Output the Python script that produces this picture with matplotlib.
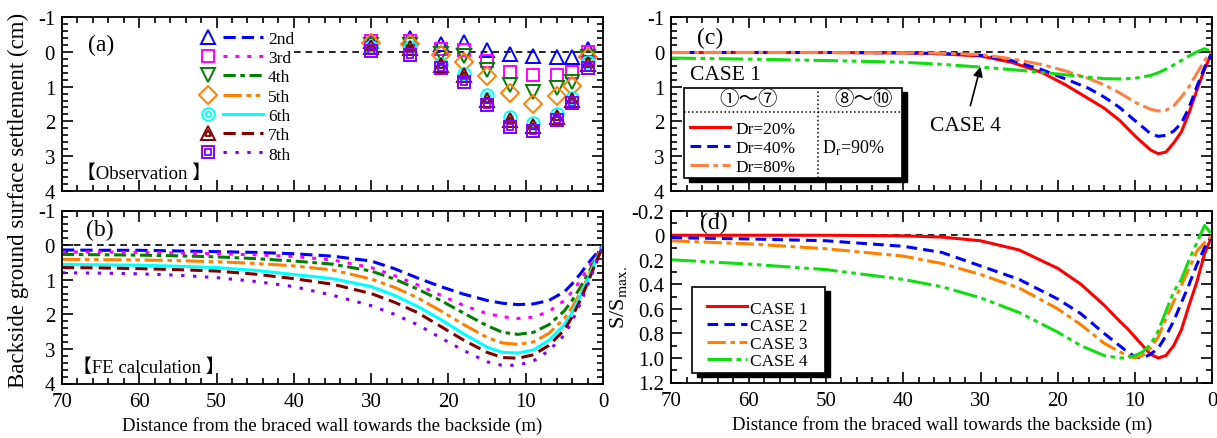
import matplotlib.pyplot as plt
from matplotlib.legend_handler import HandlerTuple
from matplotlib.lines import Line2D
from matplotlib.patches import Rectangle
from matplotlib.ticker import MultipleLocator, FuncFormatter

plt.rcParams['font.family'] = ['Liberation Serif', 'Noto Sans CJK JP']
plt.rcParams['mathtext.fontset'] = 'stix'

# ---------------- data ----------------
# (a) observed settlement (cm) at each excavation stage
obs_x = [30, 25, 21, 18, 15, 12, 9, 6, 4, 2]
obs_2nd = [-0.30, -0.40, -0.21, -0.28, -0.06, 0.06, 0.13, 0.15, 0.15, -0.09]
obs_3rd = [-0.30, -0.30, -0.09, -0.06, 0.27, 0.58, 0.68, 0.68, 0.58, 0.01]
obs_4th = [-0.20, -0.20, 0.05, 0.13, 0.52, 0.95, 1.16, 1.04, 0.87, 0.15]
obs_5th = [-0.25, -0.23, 0.10, 0.28, 0.70, 1.19, 1.49, 1.28, 0.97, 0.15]
obs_6th = [-0.15, -0.13, 0.34, 0.63, 1.24, 1.86, 2.05, 1.80, 1.32, 0.30]
obs_7th = [-0.15, -0.10, 0.39, 0.67, 1.38, 1.97, 2.12, 1.88, 1.38, 0.35]
obs_8th = [-0.02, 0.08, 0.47, 0.87, 1.54, 2.16, 2.28, 1.97, 1.47, 0.46]

# (b) FE calculation (cm)
fe_x = [70, 65, 60, 55, 50, 45, 40, 35, 30, 27, 24, 21, 18, 15, 13, 11, 9, 7, 5, 4, 3, 2, 1, 0]
fe_2nd = [0.14, 0.15, 0.15, 0.17, 0.19, 0.21, 0.25, 0.32, 0.46, 0.68, 0.95, 1.20, 1.42, 1.60, 1.68, 1.72,
          1.70, 1.60, 1.35, 1.12, 0.85, 0.55, 0.28, 0.02]
fe_3rd = [0.20, 0.20, 0.21, 0.23, 0.25, 0.28, 0.33, 0.43, 0.65, 0.88, 1.15, 1.45, 1.75, 1.98, 2.07, 2.12,
          2.08, 1.92, 1.60, 1.35, 1.05, 0.70, 0.35, 0.02]
fe_4th = [0.27, 0.28, 0.29, 0.31, 0.34, 0.39, 0.46, 0.55, 0.75, 0.98, 1.27, 1.60, 1.97, 2.33, 2.52, 2.58,
          2.52, 2.30, 1.90, 1.60, 1.25, 0.85, 0.42, 0.02]
fe_5th = [0.41, 0.42, 0.43, 0.45, 0.48, 0.53, 0.60, 0.72, 0.98, 1.22, 1.52, 1.90, 2.30, 2.67, 2.83, 2.87,
          2.80, 2.55, 2.12, 1.80, 1.40, 0.95, 0.48, 0.02]
fe_6th = [0.56, 0.57, 0.58, 0.61, 0.65, 0.73, 0.85, 0.97, 1.20, 1.45, 1.77, 2.15, 2.57, 2.95, 3.10, 3.12,
          3.03, 2.75, 2.30, 1.95, 1.50, 1.02, 0.50, 0.02]
fe_7th = [0.65, 0.66, 0.68, 0.71, 0.75, 0.84, 0.97, 1.13, 1.40, 1.65, 1.95, 2.35, 2.75, 3.10, 3.25, 3.27,
          3.17, 2.90, 2.45, 2.08, 1.62, 1.10, 0.55, 0.02]
fe_8th = [0.80, 0.81, 0.83, 0.87, 0.94, 1.05, 1.20, 1.45, 1.75, 2.00, 2.30, 2.68, 3.05, 3.37, 3.48, 3.47,
          3.35, 3.05, 2.60, 2.20, 1.72, 1.17, 0.60, 0.02]

# (c) settlement (cm) for the four cases
c_x = [70, 60, 50, 40, 35, 30, 26, 22, 19, 16, 14, 12, 10, 8, 7, 6, 5, 4, 3, 2, 1, 0]
c_case1 = [0.02, 0.02, 0.02, 0.03, 0.06, 0.12, 0.30, 0.60, 0.95, 1.35, 1.62, 1.97, 2.42, 2.82, 2.93, 2.88,
           2.62, 2.30, 1.75, 1.10, 0.50, 0.0]
c_case2 = [0.02, 0.02, 0.02, 0.03, 0.05, 0.10, 0.25, 0.52, 0.78, 1.05, 1.30, 1.60, 1.98, 2.35, 2.43, 2.40,
           2.28, 2.05, 1.60, 1.00, 0.45, 0.0]
c_case3 = [0.02, 0.02, 0.02, 0.03, 0.04, 0.08, 0.20, 0.37, 0.55, 0.77, 0.95, 1.18, 1.45, 1.65, 1.70, 1.68,
           1.55, 1.30, 1.00, 0.62, 0.25, 0.0]
c_case4 = [0.18, 0.21, 0.25, 0.30, 0.36, 0.44, 0.51, 0.59, 0.66, 0.73, 0.77, 0.78, 0.76, 0.68, 0.60, 0.50,
           0.38, 0.25, 0.12, 0.0, -0.09, 0.0]

# (d) normalised settlement S/Smax
d_x = [70, 60, 50, 40, 35, 30, 25, 20, 17, 14, 12, 11, 10, 9, 8, 7, 6, 5, 4, 3, 2, 1, 0]
d_case1 = [0.0, 0.0, 0.0, 0.005, 0.015, 0.045, 0.12, 0.27, 0.40, 0.57, 0.70, 0.76, 0.83, 0.90, 0.97, 1.0,
           0.98, 0.90, 0.77, 0.57, 0.38, 0.15, 0.0]
d_case2 = [0.02, 0.03, 0.045, 0.09, 0.14, 0.25, 0.36, 0.52, 0.64, 0.80, 0.90, 0.95, 0.99, 1.0, 0.97, 0.92,
           0.82, 0.70, 0.55, 0.40, 0.24, 0.10, 0.0]
d_case3 = [0.045, 0.07, 0.11, 0.17, 0.23, 0.32, 0.43, 0.60, 0.73, 0.88, 0.95, 0.98, 1.0, 0.98, 0.92, 0.83,
           0.68, 0.54, 0.41, 0.27, 0.13, 0.06, 0.0]
d_case4 = [0.20, 0.235, 0.28, 0.36, 0.42, 0.51, 0.63, 0.79, 0.90, 0.98, 1.0, 1.0, 0.98, 0.95, 0.89, 0.78,
           0.62, 0.46, 0.36, 0.20, 0.06, -0.08, 0.0]

stage_labels = ['2nd', '3rd', '4th', '5th', '6th', '7th', '8th']
case_labels = ['CASE 1', 'CASE 2', 'CASE 3', 'CASE 4']
dr_labels = ['Dr=20%', 'Dr=40%', 'Dr=80%']

# ---------------- styles ----------------
stage_colors = ['#0000ff', '#ff00ff', '#008000', '#ff8000', '#00ffff', '#800000', '#8000ff']
stage_dashes = [(4, 2), (1.3, 2.6), (4, 1.5, 1.5, 1.5), (6, 1.5, 1.5, 1.5, 1.5, 1.5), None, (4, 2), (1.1, 2.8)]
case_colors = ['#ff0000', '#0000ff', '#ff8000', '#11dd11']
case_dashes = [None, (3.5, 2), (6, 1.5, 1.5, 1.5), (8, 1.5, 1.5, 1.5, 1.5, 1.5)]
LW = 2.2

W, H = 1217, 439
fig = plt.figure(figsize=(W / 100, H / 100), dpi=100)


def add_ax(left, top, right, bottom):
    return fig.add_axes([left / W, 1 - bottom / H, (right - left) / W, (bottom - top) / H])


ax_a = add_ax(62, 18, 603, 192)
ax_b = add_ax(62, 211.5, 603, 384.5)
ax_c = add_ax(671.5, 18, 1212.3, 192)
ax_d = add_ax(671.5, 211.7, 1212.3, 383.5)


def style(ax, ylim, ymaj, ymin, xticklabels):
    ax.set_xlim(70, 0)
    ax.set_ylim(*ylim)
    ax.xaxis.set_major_locator(MultipleLocator(10))
    ax.xaxis.set_minor_locator(MultipleLocator(2))
    ax.yaxis.set_major_locator(MultipleLocator(ymaj))
    ax.yaxis.set_minor_locator(MultipleLocator(ymin))
    ax.tick_params(which='both', direction='in', top=True, right=True, width=1.2, labelsize=15)
    ax.tick_params(which='major', length=8)
    ax.tick_params(which='minor', length=4)
    ax.tick_params(axis='y', pad=5)
    ax.tick_params(axis='x', pad=6, labelbottom=xticklabels)
    for s in ax.spines.values():
        s.set_linewidth(1.3)


for ax in (ax_a, ax_b, ax_c):
    style(ax, (4, -1), 1, 0.2, ax is ax_b)
    ax.yaxis.set_major_formatter(FuncFormatter(lambda v, p: f'{v:.0f}'))
style(ax_d, (1.2, -0.2), 0.2, 0.1, True)
ax_d.yaxis.set_major_formatter(FuncFormatter(lambda v, p: '0' if abs(v) < 1e-9 else f'{v:.1f}'))

# ---------------- (a) observation ----------------
ax_a.axhline(0, xmin=30 / 70, xmax=1, color='k', lw=1.2, dashes=(4, 3))
obs = [obs_2nd, obs_3rd, obs_4th, obs_5th, obs_6th, obs_7th, obs_8th]
outer = [('^', 10), ('s', 9), ('v', 10), ('D', 9), ('o', 9), ('^', 10), ('s', 9)]
inner = [None, None, None, None, ('o', 4), ('^', 5), ('s', 4)]
handles = []
for vals, c, (m, ms), inn, d in zip(obs, stage_colors, outer, inner, stage_dashes):
    ax_a.plot(obs_x, vals, ls='none', marker=m, ms=ms, mfc='none', mec=c, mew=1.4)
    h_m = [Line2D([], [], ls='none', marker=m, ms=ms, mfc='none', mec=c, mew=1.4)]
    if inn:
        ax_a.plot(obs_x, vals, ls='none', marker=inn[0], ms=inn[1], mfc='none', mec=c, mew=1.3)
        h_m.append(Line2D([], [], ls='none', marker=inn[0], ms=inn[1], mfc='none', mec=c, mew=1.3))
    ln = Line2D([], [], color=c, lw=LW)
    if d:
        ln.set_dashes(d)
    # marker(s) in the first slot, line in the second
    handles.append(tuple([h_m[0], ln] + h_m[1:]))
ax_a.legend(handles, stage_labels, handler_map={tuple: HandlerTuple(ndivide=2, pad=-0.29)},
            loc='upper left', bbox_to_anchor=((188 - 62) / 541, 0.921), frameon=False,
            borderpad=0, borderaxespad=0, handlelength=4.32, handletextpad=0.29,
            labelspacing=0.18, fontsize=12.5)
ax_a.text(0.072, 0.845, '(a)', transform=ax_a.transAxes, ha='center', va='center', fontsize=17)
ax_a.text(0.0277, 0.1017, '【Observation 】', transform=ax_a.transAxes, ha='left', va='center', fontsize=13.5)

# ---------------- (b) FE calculation ----------------
ax_b.axhline(0, color='k', lw=1.2, dashes=(4, 3))
fe = [fe_2nd, fe_3rd, fe_4th, fe_5th, fe_6th, fe_7th, fe_8th]
for vals, c, d in zip(fe, stage_colors, stage_dashes):
    ln, = ax_b.plot(fe_x, vals, color=c, lw=LW)
    if d:
        ln.set_dashes(d)
ax_b.text(0.070, 0.893, '(b)', transform=ax_b.transAxes, ha='center', va='center', fontsize=17)
ax_b.text(0.0203, 0.0954, '【FE calculation 】', transform=ax_b.transAxes, ha='left', va='center',
          fontsize=13.5)
ax_b.set_xlabel('Distance from the braced wall towards the backside (m)', fontsize=13.5, labelpad=4)

# ---------------- (c) cases ----------------
ax_c.axhline(0, color='k', lw=1.2, dashes=(4, 3))
c_colors = ['#ff0000', '#0000ff', '#ff8040', '#11dd11']
c_lines = []
for vals, c, d in zip([c_case1, c_case2, c_case3, c_case4], c_colors, case_dashes):
    ln, = ax_c.plot(c_x, vals, color=c, lw=LW)
    if d:
        ln.set_dashes(d)
    c_lines.append(ln)
ax_c.text(0.072, 0.885, '(c)', transform=ax_c.transAxes, ha='center', va='center', fontsize=17)
ax_c.text(0.034, 0.672, 'CASE 1', transform=ax_c.transAxes, ha='left', va='center', fontsize=15.5)
ax_c.annotate('CASE 4', xy=(30, 0.43), xytext=(32, 2.13), ha='center', va='center', fontsize=15.5,
              arrowprops=dict(arrowstyle='-|>', color='k', lw=1.2, mutation_scale=14, shrinkA=6, shrinkB=0))

# table-like legend box
bx, by, bw, bh = 0.0231, 0.0747, 0.403, 0.5173
ax_c.add_patch(Rectangle((bx + 0.0092, by - 0.023), bw, bh, transform=ax_c.transAxes,
                         fc='k', ec='k', zorder=5))
ax_c.add_patch(Rectangle((bx, by), bw, bh, transform=ax_c.transAxes, fc='white', ec='k', lw=1.2, zorder=5.1))
ax_c.add_line(Line2D([0.2709, 0.2709], [by, by + bh], transform=ax_c.transAxes, color='k', lw=1.1,
                     ls=':', zorder=5.2))
ax_c.add_line(Line2D([bx, 0.4372], [0.454, 0.454], transform=ax_c.transAxes, color='k', lw=1.1,
                     ls=':', zorder=5.2, clip_on=False))
ax_c.text(0.1424, 0.5287, '①〜⑦', transform=ax_c.transAxes, ha='center', va='center', fontsize=14,
          zorder=5.3)
ax_c.text(0.3559, 0.5287, '⑧〜⑩', transform=ax_c.transAxes, ha='center', va='center', fontsize=14,
          zorder=5.3)
ax_c.text(0.2787, 0.253, r'D$_\mathrm{r}$=90%', transform=ax_c.transAxes, ha='left', va='center',
          fontsize=13, zorder=5.3)
leg_c = ax_c.legend(c_lines[:3], dr_labels, loc='upper left', bbox_to_anchor=(0.0342, 0.404),
                    frameon=False, borderpad=0, borderaxespad=0, handlelength=2.3, handletextpad=0.29,
                    labelspacing=0.17, fontsize=12.5)
leg_c.set_zorder(6)

# ---------------- (d) normalised ----------------
ax_d.axhline(0, color='k', lw=1.2, dashes=(4, 3))
d_lines = []
for vals, c, d in zip([d_case1, d_case2, d_case3, d_case4], case_colors, case_dashes):
    ln, = ax_d.plot(d_x, vals, color=c, lw=LW)
    if d:
        ln.set_dashes(d)
    d_lines.append(ln)
ax_d.text(0.078, 0.93, '(d)', transform=ax_d.transAxes, ha='center', va='center', fontsize=17)
bx, by, bw, bh = 0.0374, 0.0553, 0.2464, 0.4987
ax_d.add_patch(Rectangle((bx + 0.0092, by - 0.023), bw, bh, transform=ax_d.transAxes,
                         fc='k', ec='k', zorder=5))
ax_d.add_patch(Rectangle((bx, by), bw, bh, transform=ax_d.transAxes, fc='white', ec='k', lw=1.2, zorder=5.1))
leg_d = ax_d.legend(d_lines, case_labels, loc='upper left', bbox_to_anchor=(0.0651, 0.478),
                    frameon=False, borderpad=0, borderaxespad=0, handlelength=2.34, handletextpad=0.17,
                    labelspacing=0.08, fontsize=12.5)
leg_d.set_zorder(6)
ax_d.set_ylabel(r'S/S$_\mathrm{max.}$', fontsize=16, labelpad=2)
ax_d.set_xlabel('Distance from the braced wall towards the backside (m)', fontsize=13.5, labelpad=4)

fig.text(18 / W, 1 - 200 / H, 'Backside ground surface settlement (cm)', rotation=90,
         ha='center', va='center', fontsize=16.5)

fig.savefig('out.png', dpi=100)
